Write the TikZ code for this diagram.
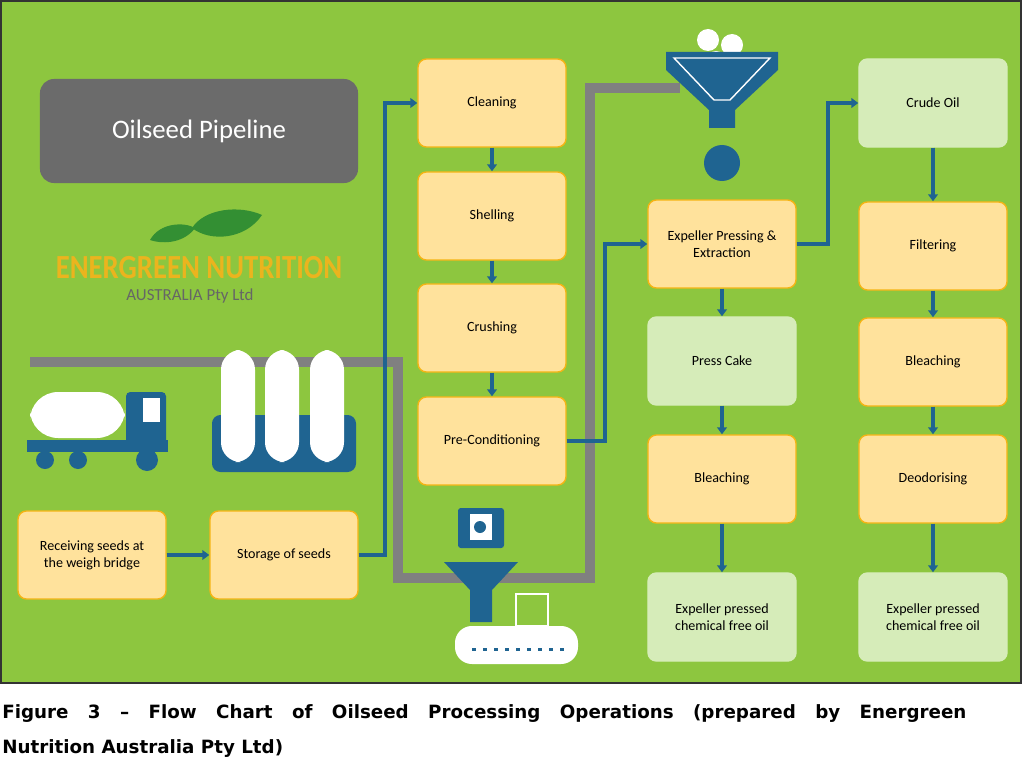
\documentclass[tikz,border=0pt]{standalone}
\usepackage{fontspec}
\setmainfont{Carlito}
\newfontfamily\capfont{DejaVu Sans}
\usetikzlibrary{positioning, arrows.meta, shapes.misc}
\definecolor{bggreen}{RGB}{141,198,63}
\definecolor{boxfill}{RGB}{255,226,156}
\definecolor{boxline}{RGB}{245,180,20}
\definecolor{lightbox}{RGB}{214,236,185}
\definecolor{flowblue}{RGB}{31,100,145}
\definecolor{pipegray}{RGB}{128,128,128}
\definecolor{logoyel}{RGB}{235,180,30}
\tikzset{
  stage/.style={rectangle, rounded corners=6pt, draw=boxline, line width=1pt, fill=boxfill, minimum width=3.7cm, minimum height=2.2cm, align=center, font=\fontsize{10}{12}\selectfont},
  result/.style={stage, fill=lightbox, draw=lightbox},
  arrow/.style={-{Triangle[length=5pt,width=7pt]}, flowblue, line width=2.2pt},
  pipe/.style={pipegray, line width=7pt},
}
\begin{document}
\begin{tikzpicture}[x=0.025cm, y=-0.025cm]
  \useasboundingbox (0,0) rectangle (1024,768);
  \fill[white] (0,0) rectangle (1024,768);
  \filldraw[fill=bggreen, draw=black!80, line width=1.5pt] (1,1) rectangle (1021,683);

  % Pipes
  \draw[pipe] (30,362) -- (398,362) -- (398,578) -- (590,578) -- (590,88) -- (680,88);

  % Title and logo
  \node[rectangle, rounded corners=10pt, fill=black!58, minimum width=7.95cm, minimum height=2.6cm, text=white, font=\fontsize{19}{22}\selectfont] (title) at (199,131) {Oilseed Pipeline};
  \fill[green!45!black!80] (150,240) .. controls (160,222) and (185,222) .. (195,228) .. controls (185,242) and (165,245) .. (150,240);
  \fill[green!45!black!80] (192,228) .. controls (205,208) and (240,205) .. (262,215) .. controls (245,240) and (210,242) .. (192,228);
  \node[text=logoyel, xscale=0.85, font=\bfseries\fontsize{24}{26}\selectfont] (logo) at (199,268) {ENERGREEN NUTRITION};
  \node[text=black!60, font=\fontsize{12}{14}\selectfont] (logosub) at (190,296) {AUSTRALIA Pty Ltd};

  % Truck
  \fill[white, rounded corners=20pt] (30,392) rectangle (125,438);
  \fill[flowblue, rounded corners=3pt] (126,392) rectangle (166,448);
  \fill[white] (143,398) rectangle (160,422);
  \fill[flowblue] (27,440) rectangle (168,452);
  \fill[flowblue] (45,460) circle (9);
  \fill[flowblue] (78,460) circle (9);
  \fill[flowblue] (147,460) circle (11);

  % Silos
  \fill[flowblue, rounded corners=6pt] (212,415) rectangle (356,472);
  \foreach \sx in {238,282,327}
    \fill[white, rounded corners=14pt] (\sx-17,350) rectangle (\sx+17,462);

  % Hopper top
  \fill[white] (708,40) circle (11);
  \fill[white] (732,45) circle (11);
  \fill[white] (716,60) circle (9);
  \fill[flowblue] (666,52) -- (778,52) -- (778,70) -- (735,110) -- (735,128) -- (709,128) -- (709,110) -- (666,70) -- cycle;
  \draw[white, line width=1pt] (674,58) -- (770,58) -- (730,100) -- (714,100) -- cycle;
  \fill[flowblue] (722,163) circle (18);

  % Bottom machine
  \fill[flowblue, rounded corners=2pt] (458,508) rectangle (504,548);
  \fill[white] (470,514) rectangle (492,540);
  \fill[flowblue] (480,527) circle (6);
  \fill[flowblue] (444,562) -- (518,562) -- (492,590) -- (492,622) -- (470,622) -- (470,590) -- cycle;
  \draw[white, line width=1.5pt] (516,594) rectangle (548,626);
  \fill[white, rounded corners=12pt] (455,626) rectangle (578,664);
  \foreach \dx in {472,483,...,560}
    \fill[flowblue] (\dx,648) rectangle (\dx+4,651);

  % Stages
  \node[stage] (receive) at (92,555) {Receiving seeds at\\the weigh bridge};
  \node[stage] (storage) at (284,555) {Storage of seeds};
  \node[stage] (clean) at (492,103) {Cleaning};
  \node[stage] (shell) at (492,216) {Shelling};
  \node[stage] (crush) at (492,328) {Crushing};
  \node[stage] (precond) at (492,441) {Pre-Conditioning};
  \node[stage] (expel) at (722,244) {Expeller Pressing \&\\Extraction};
  \node[result] (cake) at (722,361) {Press Cake};
  \node[stage] (bleachA) at (722,479) {Bleaching};
  \node[result] (oilA) at (722,617) {Expeller pressed\\chemical free oil};
  \node[result] (crude) at (933,103) {Crude Oil};
  \node[stage] (filter) at (933,246) {Filtering};
  \node[stage] (bleachB) at (933,362) {Bleaching};
  \node[stage] (deodor) at (933,479) {Deodorising};
  \node[result] (oilB) at (933,617) {Expeller pressed\\chemical free oil};

  % Arrows
  \draw[arrow] (receive) -- (storage);
  \draw[arrow] (storage.east) -| (385,103) -- (clean.west);
  \draw[arrow] (clean) -- (shell);
  \draw[arrow] (shell) -- (crush);
  \draw[arrow] (crush) -- (precond);
  \draw[arrow] (precond.east) -| (605,244) -- (expel.west);
  \draw[arrow] (expel.east) -| (828,103) -- (crude.west);
  \draw[arrow] (expel) -- (cake);
  \draw[arrow] (cake) -- (bleachA);
  \draw[arrow] (bleachA) -- (oilA);
  \draw[arrow] (crude) -- (filter);
  \draw[arrow] (filter) -- (bleachB);
  \draw[arrow] (bleachB) -- (deodor);
  \draw[arrow] (deodor) -- (oilB);

  % Caption
  \node[anchor=north west, text width=24.1cm, align=justify, inner sep=0pt, font=\capfont\bfseries\fontsize{13}{25}\selectfont] (caption) at (2,704) {Figure 3 – Flow Chart of Oilseed Processing Operations (prepared by Energreen\linebreak Nutrition Australia Pty Ltd)};
\end{tikzpicture}
\end{document}
